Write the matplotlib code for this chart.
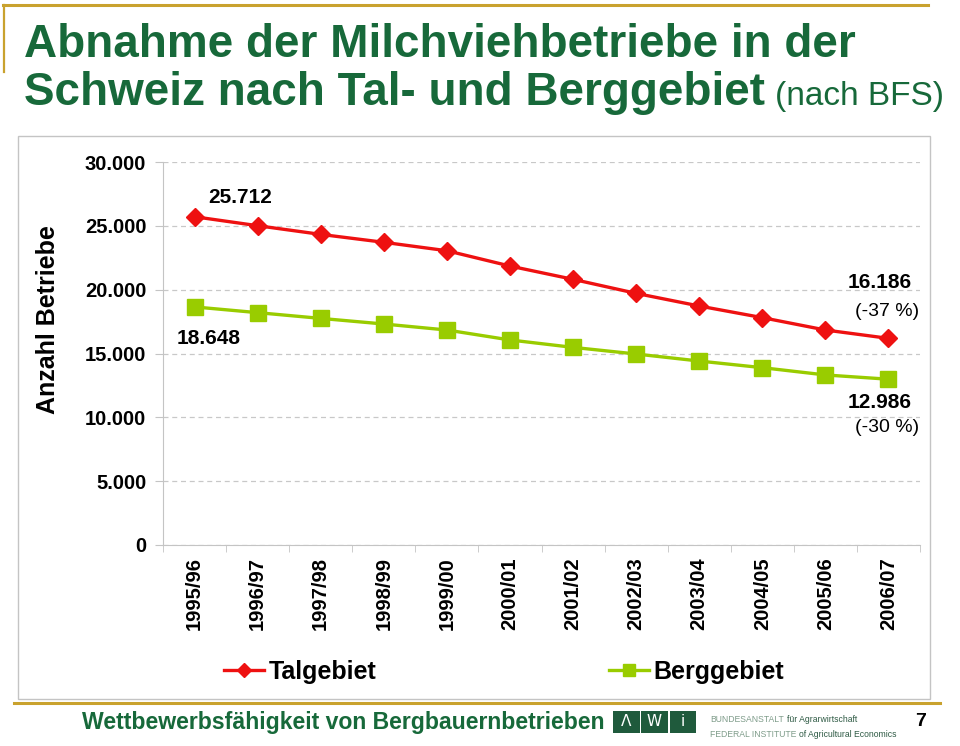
import matplotlib
matplotlib.use("Agg")
import matplotlib.pyplot as plt
from matplotlib.patches import Rectangle
from matplotlib.lines import Line2D
from matplotlib import font_manager as fm

# ---------------- data ----------------
years = ["1995/96", "1996/97", "1997/98", "1998/99", "1999/00", "2000/01",
         "2001/02", "2002/03", "2003/04", "2004/05", "2005/06", "2006/07"]
talgebiet = [25712, 25010, 24330, 23710, 23050, 21850, 20810, 19710, 18720, 17810, 16840, 16186]
berggebiet = [18648, 18200, 17750, 17310, 16840, 16060, 15480, 14960, 14410, 13890, 13320, 12986]
yticks = [0, 5000, 10000, 15000, 20000, 25000, 30000]
ytick_labels = ["0", "5.000", "10.000", "15.000", "20.000", "25.000", "30.000"]

W, H = 960, 746
FONT = "Liberation Sans"
names = {f.name for f in fm.fontManager.ttflist}
NARROW = "Liberation Sans Narrow" if "Liberation Sans Narrow" in names else FONT
SMALL = 8.5 if NARROW != FONT else 6.2
plt.rcParams['font.family'] = [FONT, 'DejaVu Sans']

RED = "#ee1111"
GREEN = "#99cc00"
TITLE_GREEN = "#17693a"
GOLD = "#c9a22e"
FRAME = "#c4c4c4"


def fx(x):
    return x / W


def fy(y):
    return 1 - y / H


fig = plt.figure(figsize=(W / 100, H / 100), dpi=100)
fig.patch.set_facecolor("white")

# ---------- decorative lines / frame ----------
fig.add_artist(Line2D([fx(3), fx(928)], [fy(5), fy(5)], color=GOLD, lw=2.2))
fig.add_artist(Line2D([fx(4), fx(4)], [fy(5), fy(72)], color=GOLD, lw=1.6))
fig.add_artist(Line2D([fx(14), fx(940)], [fy(703), fy(703)], color=GOLD, lw=2.2))
fig.add_artist(Rectangle((fx(18), fy(699)), fx(930) - fx(18), fy(136) - fy(699),
                         transform=fig.transFigure, fill=False, edgecolor=FRAME, lw=1.0))

# ---------- title ----------
t1 = fig.text(fx(24), fy(57), "Abnahme der Milchviehbetriebe in der", fontsize=33,
              fontweight="bold", color=TITLE_GREEN, ha="left", va="baseline")
t2 = fig.text(fx(24), fy(105), "Schweiz nach Tal- und Berggebiet", fontsize=33,
              fontweight="bold", color=TITLE_GREEN, ha="left", va="baseline")
renderer = fig.canvas.get_renderer()
bb = t2.get_window_extent(renderer=renderer)
fig.text(bb.x1 / W + fx(10), fy(105), "(nach BFS)", fontsize=24 if NARROW == FONT else 26,
         color=TITLE_GREEN, ha="left", va="baseline", family=NARROW)

# ---------- axes ----------
ax = fig.add_axes([fx(163), fy(545), fx(920) - fx(163), fy(162) - fy(545)])
x = list(range(len(years)))
ax.plot(x, talgebiet, color=RED, lw=2.4, marker="D", ms=9, mec=RED, mfc=RED,
        label="Talgebiet", zorder=4, clip_on=False)
ax.plot(x, berggebiet, color=GREEN, lw=2.4, marker="s", ms=11, mec=GREEN, mfc=GREEN,
        label="Berggebiet", zorder=3, clip_on=False)

ax.set_xlim(-0.5, len(years) - 0.5)
ax.set_ylim(0, 30000)
ax.set_yticks(yticks)
ax.set_yticklabels(ytick_labels, fontsize=14.5, fontweight="bold")
ax.set_xticks(x)
ax.set_xticklabels(years, rotation=90, fontsize=14.5, fontweight="bold", va="top", ha="center")
ax.set_xticks([i - 0.5 for i in range(len(years) + 1)], minor=True)
ax.tick_params(axis="x", which="major", length=0, pad=9)
ax.tick_params(axis="x", which="minor", length=5, color=FRAME, direction="out")
ax.tick_params(axis="y", length=6, color=FRAME, pad=6)
ax.grid(axis="y", color="#c8c8c8", ls=(0, (4, 3)), lw=0.9)
ax.set_axisbelow(True)
for s in ["top", "right"]:
    ax.spines[s].set_visible(False)
ax.spines["left"].set_color(FRAME)
ax.spines["bottom"].set_color(FRAME)
ax.patch.set_alpha(0)

fig.text(fx(48), fy(320), "Anzahl Betriebe", rotation=90, fontsize=18, fontweight="bold",
         ha="center", va="center")

# ---------- data labels ----------
lab = dict(fontsize=15, fontweight="bold", ha="center", va="center", textcoords="offset points")
ax.annotate("25.712", xy=(0, talgebiet[0]), xytext=(33, 14), **lab)
ax.annotate("18.648", xy=(0, berggebiet[0]), xytext=(10, -23), **lab)
ax.annotate("16.186", xy=(11, talgebiet[-1]), xytext=(-6, 40), **lab)
ax.annotate("(-37 %)", xy=(11, talgebiet[-1]), xytext=(-1, 19), fontsize=14, ha="center",
            va="center", textcoords="offset points")
ax.annotate("12.986", xy=(11, berggebiet[-1]), xytext=(-6, -17), **lab)
ax.annotate("(-30 %)", xy=(11, berggebiet[-1]), xytext=(-1, -35), fontsize=14, ha="center",
            va="center", textcoords="offset points")

# ---------- legend ----------
handles, labels = ax.get_legend_handles_labels()
leg = fig.legend(handles, labels, ncol=2, frameon=False, loc="center",
                 bbox_to_anchor=(fx(504), fy(672)),
                 prop={"weight": "bold", "size": 18}, handlelength=1.6,
                 handletextpad=0.2, columnspacing=9.3, markerscale=0.8)

# ---------- footer ----------
fig.text(fx(82), fy(729), "Wettbewerbsfähigkeit von Bergbauernbetrieben", fontsize=16.6,
         fontweight="bold", color=TITLE_GREEN, ha="left", va="baseline")
for i, ch in enumerate(["Λ", "W", "i"]):
    x0 = 613 + i * 28.3
    fig.add_artist(Rectangle((fx(x0), fy(733)), fx(26.5), fy(711) - fy(733),
                             transform=fig.transFigure, facecolor="#1f5a3c", edgecolor="none"))
    fig.text(fx(x0 + 13.25), fy(722), ch, color="white", fontsize=11, ha="center",
             va="center", family="DejaVu Sans")
t = fig.text(fx(710), fy(722), "BUNDESANSTALT", fontsize=SMALL, color="#7f9c8a", family=NARROW,
             ha="left", va="baseline")
b = t.get_window_extent(renderer=renderer)
fig.text(b.x1 / W + fx(3), fy(722), "für Agrarwirtschaft", fontsize=SMALL, color="#2e5a44",
         family=NARROW, ha="left", va="baseline")
t = fig.text(fx(710), fy(737), "FEDERAL INSTITUTE", fontsize=SMALL, color="#7f9c8a", family=NARROW,
             ha="left", va="baseline")
b = t.get_window_extent(renderer=renderer)
fig.text(b.x1 / W + fx(3), fy(737), "of Agricultural Economics", fontsize=SMALL, color="#2e5a44",
         family=NARROW, ha="left", va="baseline")
fig.text(fx(921), fy(726), "7", fontsize=14, fontweight="bold", ha="center", va="baseline")

fig.savefig("out.png", dpi=100, facecolor="white")
